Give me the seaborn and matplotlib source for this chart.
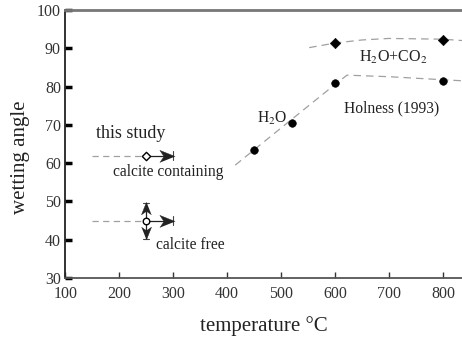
import matplotlib
matplotlib.use("Agg")
import matplotlib.pyplot as plt
import numpy as np
import seaborn as sns
import pandas as pd

# Measured wetting angles (Holness 1993)
h2o_temp = [450, 520, 600, 800]
h2o_angle = [63.5, 70.5, 81, 81.5]
co2_temp = [600, 800]
co2_angle = [91.5, 92.3]

# Trend curves through the literature data
h2o_curve_t = [415, 450, 520, 600, 622, 700, 800, 840]
h2o_curve_a = [59.5, 63.5, 71.5, 80.6, 83, 82.6, 81.8, 81.5]
co2_curve_t = [552, 600, 650, 700, 800, 840]
co2_curve_a = [90.2, 91.4, 92.2, 92.6, 92.4, 92]

# This study: lower-bound estimates
study_temp = 250
study_lo_temp = 150
study_hi_temp = 300
calc_containing = 62
calc_free = 45
calc_free_err = 4.7

sns.set_theme(style="ticks")
plt.rcParams["font.family"] = ["Liberation Serif", "DejaVu Serif"]
plt.rcParams["mathtext.fontset"] = "stix"

fig = plt.figure(figsize=(4.62, 3.37), dpi=100)
ax = fig.add_axes([0.141, 0.175, 0.859, 0.795])

gray = "#a0a0a0"
dark = "#222222"
lines = pd.DataFrame({"t": h2o_curve_t, "a": h2o_curve_a})
sns.lineplot(data=lines, x="t", y="a", ax=ax, sort=False, color=gray,
             lw=0.9, linestyle=(0, (6, 4)))
lines2 = pd.DataFrame({"t": co2_curve_t, "a": co2_curve_a})
sns.lineplot(data=lines2, x="t", y="a", ax=ax, sort=False, color=gray,
             lw=0.9, linestyle=(0, (6, 4)))

sns.scatterplot(x=h2o_temp, y=h2o_angle, ax=ax, marker="o", s=30,
                color="black", edgecolor="black", zorder=5)
sns.scatterplot(x=co2_temp, y=co2_angle, ax=ax, marker="D", s=28,
                color="black", edgecolor="black", zorder=5)


def stealth(angle):
    """Vertices of a notched arrowhead pointing along `angle` (degrees)."""
    pts = np.array([(1.0, 0), (-1.0, 0.8), (-0.45, 0), (-1.0, -0.8)])
    c, s = np.cos(np.radians(angle)), np.sin(np.radians(angle))
    rot = pts @ np.array([[c, s], [-s, c]])
    return [tuple(p) for p in rot]


# study estimates: dashed lead-in, open marker, arrows to bounds
for val in (calc_containing, calc_free):
    ax.plot([study_lo_temp, study_temp], [val, val], color=gray, lw=0.9,
            linestyle=(0, (5, 3.5)))
    ax.plot([study_temp, study_hi_temp - 3], [val, val], color=dark, lw=0.9)
    ax.plot([study_hi_temp - 11], [val], marker=stealth(0), markersize=11,
            markerfacecolor=dark, markeredgecolor=dark, markeredgewidth=0.3,
            linestyle="none", zorder=6)
    ax.plot([study_hi_temp, study_hi_temp], [val - 1.2, val + 1.2],
            color="#444444", lw=0.8)

for end, ang in ((calc_free + calc_free_err, 90), (calc_free - calc_free_err, -90)):
    ax.plot([study_temp, study_temp], [calc_free, end], color=dark, lw=0.9)
    head = end - 1.4 if ang > 0 else end + 1.4
    ax.plot([study_temp], [head], marker=stealth(ang), markersize=9,
            markerfacecolor=dark, markeredgecolor=dark, markeredgewidth=0.3,
            linestyle="none", zorder=6)
    ax.plot([study_temp - 6, study_temp + 6], [end, end], color="#444444", lw=0.8)

sns.scatterplot(x=[study_temp], y=[calc_containing], ax=ax, marker="D", s=18,
                facecolor="white", edgecolor="black", linewidth=1, zorder=7)
sns.scatterplot(x=[study_temp], y=[calc_free], ax=ax, marker="o", s=22,
                facecolor="white", edgecolor="black", linewidth=1, zorder=7)

txt = dict(color=dark, fontsize=11.2)
ax.text(157, 67.8, "this study", fontsize=13, color=dark, va="center")
ax.text(188, 57.6, "calcite containing", va="center", **txt)
ax.text(268, 38.6, "calcite free", va="center", **txt)
ax.text(455, 71.8, r"H$_2$O", va="center", **txt)
ax.text(645, 87.6, r"H$_2$O+CO$_2$", va="center", fontsize=11.5, color=dark)
ax.text(616, 74.4, "Holness (1993)", va="center", **txt)

ax.set_xlim(107, 835)
ax.set_ylim(30, 100)
ax.set_xticks([100, 200, 300, 400, 500, 600, 700, 800])
ax.set_yticks([30, 40, 50, 60, 70, 80, 90, 100])
ax.tick_params(axis="x", direction="in", length=4, width=1, colors="#333333",
               labelsize=11.5, pad=6)
ax.tick_params(axis="y", direction="in", length=5, width=2.5, colors="black",
               labelsize=11.5, pad=3)
for lab in ax.get_xticklabels() + ax.get_yticklabels():
    lab.set_color("#333333")

ax.set_xlabel("temperature °C", fontsize=15, color=dark, labelpad=10)
ax.set_ylabel("wetting angle", fontsize=15, color=dark)
ax.yaxis.set_label_coords(-0.088, 0.45)

ax.spines["top"].set_color("#777777")
ax.spines["top"].set_linewidth(2)
ax.spines["right"].set_visible(False)
ax.spines["left"].set_color(dark)
ax.spines["left"].set_linewidth(1.3)
ax.spines["bottom"].set_color("#555555")
ax.spines["bottom"].set_linewidth(1.3)

fig.savefig("out.png", dpi=100)
